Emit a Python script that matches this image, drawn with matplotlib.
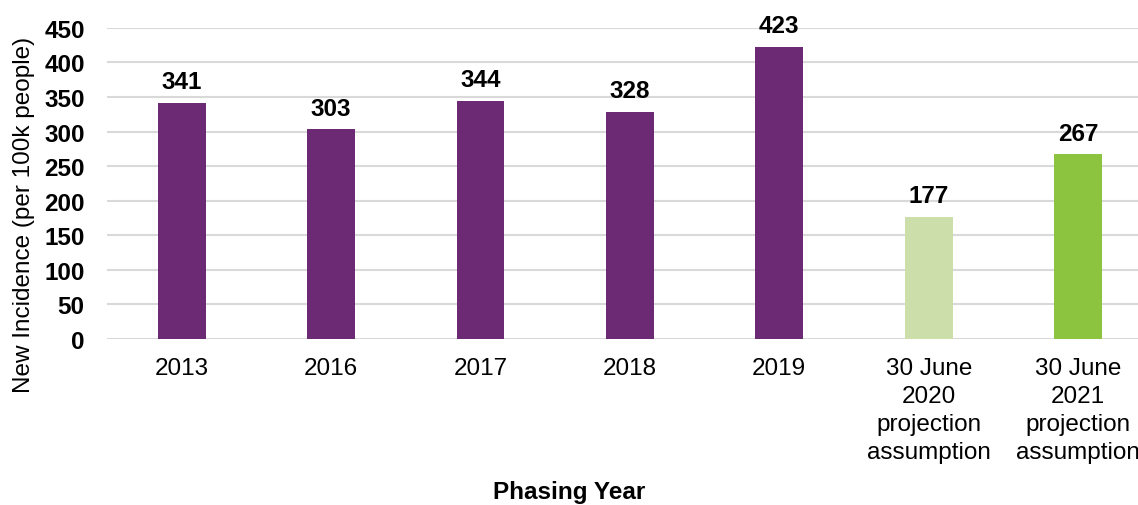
import matplotlib.pyplot as plt

plt.rcParams['font.family'] = ['Liberation Sans', 'DejaVu Sans']

# new incidence per phasing year
categories = ['2013', '2016', '2017', '2018', '2019',
              '30 June\n2020\nprojection\nassumption',
              '30 June\n2021\nprojection\nassumption']
values = [341, 303, 344, 328, 423, 177, 267]
colors = ['#6B2A73'] * 5 + ['#CCDFAB', '#8CC43F']

fig = plt.figure(figsize=(11.38, 5.06), dpi=100)
ax = fig.add_axes([0.094, 0.328, 0.919, 0.615])

x = range(len(categories))
bars = ax.bar(x, values, width=0.32, color=colors, zorder=2)

for xi, v in zip(x, values):
    ax.annotate(str(v), (xi, v), xytext=(0, 7), textcoords='offset points',
                ha='center', va='bottom', fontsize=17.5, fontweight='bold')

ax.set_xlim(-0.5, len(categories) - 0.5)
ax.set_ylim(0, 450)
ax.set_yticks(range(0, 451, 50))
ax.set_xticks(list(x))
ax.set_xticklabels(categories, fontsize=17.5, linespacing=1.36, va='top')
ax.tick_params(axis='y', labelsize=17.5, length=0, pad=16)
ax.tick_params(axis='x', length=0, pad=13)
for lbl in ax.get_yticklabels():
    lbl.set_fontweight('bold')

ax.grid(axis='y', color='#D9D9D9', linewidth=1.5, zorder=0)
ax.set_axisbelow(True)
for s in ax.spines.values():
    s.set_visible(False)

fig.text(0.021, 0.575, 'New Incidence (per 100k people)', rotation=90,
         ha='center', va='center', fontsize=17.5)
fig.text(0.5, 0.004, 'Phasing Year', ha='center', va='bottom',
         fontsize=17.5, fontweight='bold')

fig.savefig('out.png', dpi=100)
